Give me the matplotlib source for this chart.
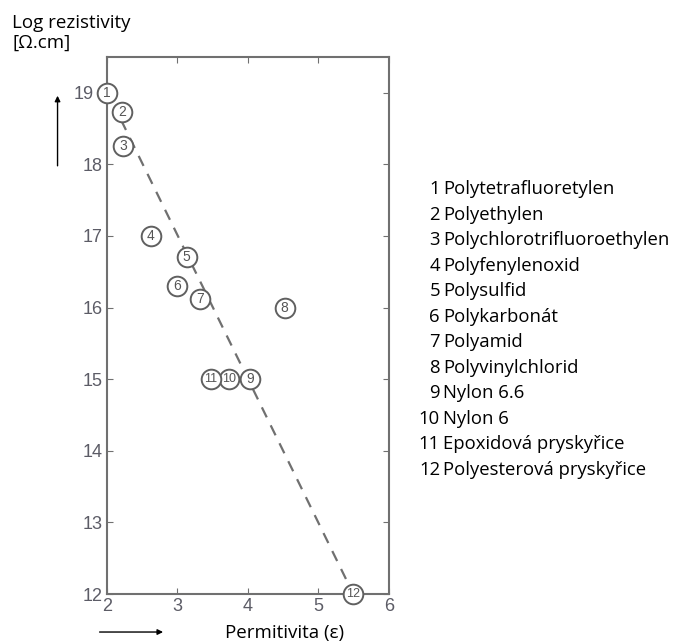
import matplotlib.pyplot as plt
from matplotlib.transforms import ScaledTranslation

# data
labels = ['1', '2', '3', '4', '5', '6', '7', '8', '9', '10', '11', '12']
permitivita = [2.0, 2.21, 2.23, 2.62, 3.13, 3.0, 3.32, 4.52, 4.03, 3.73, 3.47, 5.49]
log_rez = [19.0, 18.73, 18.25, 17.0, 16.7, 16.3, 16.12, 16.0, 15.0, 15.0, 15.0, 12.0]
names = ['Polytetrafluoretylen', 'Polyethylen', 'Polychlorotrifluoroethylen',
         'Polyfenylenoxid', 'Polysulfid', 'Polykarbonát', 'Polyamid',
         'Polyvinylchlorid', 'Nylon 6.6', 'Nylon 6', 'Epoxidová pryskyřice',
         'Polyesterová pryskyřice']
trend_x = [2.2, 5.47]
trend_y = [18.62, 12.05]

fig = plt.figure(figsize=(6.77, 6.41), dpi=100)
ax = fig.add_axes([0.158, 0.0733, 0.4165, 0.8378])

ax.plot(trend_x, trend_y, ls=(0, (5, 4)), color='#707070', lw=1.6, zorder=1)
ax.scatter(permitivita, log_rez, s=200, facecolor='white', edgecolor='#606060',
           linewidths=1.4, zorder=3, clip_on=False)
for lab, x, y in zip(labels, permitivita, log_rez):
    ax.text(x, y, lab, ha='center', va='center', fontsize=10 if len(lab) == 1 else 9,
            color='#555555', family='Liberation Sans', zorder=4)

ax.set_xlim(2, 6)
ax.set_ylim(12, 19.5)
ax.set_xticks([2, 3, 4, 5, 6])
ax.set_yticks(range(12, 20))
ax.tick_params(direction='in', top=True, right=True, length=4, color='#707070',
               labelsize=13, labelcolor='#5c5c66', pad=3)
for lbl in ax.get_xticklabels() + ax.get_yticklabels():
    lbl.set_family('Liberation Sans')
# the "19" label sits left of the first circle
lbl19 = ax.get_yticklabels()[-1]
lbl19.set_transform(lbl19.get_transform() + ScaledTranslation(-0.09, 0, fig.dpi_scale_trans))
for sp in ax.spines.values():
    sp.set_color('#707070')
    sp.set_linewidth(1.5)

fig.text(0.018, 0.978, 'Log rezistivity\n[Ω.cm]', ha='left', va='top',
         fontsize=13.5, family='Open Sans', linespacing=1.15)
fig.text(0.421, -0.002, 'Permitivita (ε)', ha='center', va='bottom',
         fontsize=13.5, family='Open Sans')

# arrows next to the axis labels
fig.add_artist(plt.Annotation('', xy=(0.085, 0.855), xytext=(0.085, 0.737),
                              xycoords='figure fraction',
                              arrowprops=dict(arrowstyle='-|>', color='black', lw=1,
                                              mutation_scale=8)))
fig.add_artist(plt.Annotation('', xy=(0.245, 0.014), xytext=(0.143, 0.014),
                              xycoords='figure fraction',
                              arrowprops=dict(arrowstyle='-|>', color='black', lw=1,
                                              mutation_scale=8)))

# numbered list of materials
for i, (lab, name) in enumerate(zip(labels, names)):
    y = 0.705 - i * 0.0398
    fig.text(0.650, y, lab, ha='right', va='center', fontsize=13.3, family='Open Sans')
    fig.text(0.654, y, name, ha='left', va='center', fontsize=13.3, family='Open Sans')

fig.savefig('out.png', dpi=100)
